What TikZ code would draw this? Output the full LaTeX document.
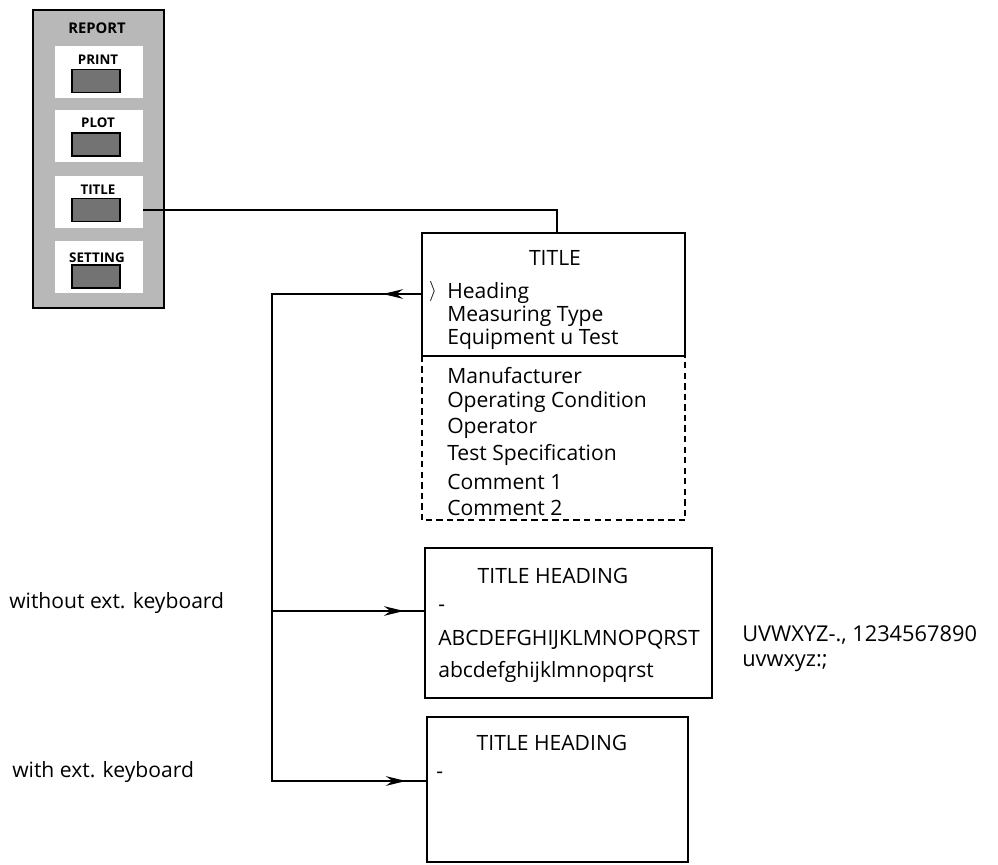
\documentclass[tikz,border=0pt]{standalone}
\usepackage{fontspec}
\setmainfont{Open Sans}
\usetikzlibrary{arrows.meta,decorations.markings}

\begin{document}
\begin{tikzpicture}[
  x=0.025cm, y=-0.025cm,
  font=\fontsize{15}{17}\selectfont,
  wire/.style={line width=1.4pt},
  panelbox/.style={draw, line width=1.6pt, fill=black!28, minimum width=3.275cm,
                   minimum height=7.45cm, inner sep=0pt},
  btnarea/.style={fill=white, minimum width=2.2cm, minimum height=1.3cm, inner sep=0pt},
  keybox/.style={draw, line width=1.3pt, fill=black!55, minimum width=1.2cm,
                 minimum height=0.575cm, inner sep=0pt},
  keylabel/.style={font=\fontsize{9.5}{10}\selectfont\bfseries, inner sep=0pt},
  screen/.style={draw, line width=1.4pt, inner sep=0pt},
  item/.style={anchor=west, inner sep=0pt},
  charset/.style={item, font=\fontsize{15.5}{18}\selectfont, text height=11pt, text depth=3pt},
  barb/.tip={Stealth[length=5mm, width=2.4mm]},
]
\useasboundingbox (0,0) rectangle (998,865);

% REPORT softkey panel
\node[panelbox] (panel) at (98.5,159) {};
\node[keylabel, font=\fontsize{10.5}{11}\selectfont\bfseries] (report) at (97,28) {REPORT};
\node[btnarea] (printbtn) at (99,72) {};
\node[btnarea] (plotbtn) at (99,136) {};
\node[btnarea] (titlebtn) at (99,202) {};
\node[btnarea] (setbtn) at (99,267) {};
\node[keylabel] (printlbl) at (98,60) {PRINT};
\node[keylabel] (plotlbl) at (98,123) {PLOT};
\node[keylabel] (titlelbl) at (98,190) {TITLE};
\node[keylabel] (setlbl) at (97,258) {SETTING};
\node[keybox] (printkey) at (96,81) {};
\node[keybox] (plotkey) at (96,144.5) {};
\node[keybox] (titlekey) at (96,210) {};
\node[keybox] (setkey) at (96,276.5) {};

% TITLE menu
\node[screen, minimum width=6.575cm, minimum height=3.075cm] (titlebox) at (553.5,294.5) {};
\node[inner sep=0pt, minimum width=6.575cm, minimum height=4.1cm] (optlist) at (553.5,438) {};
\draw[wire, dashed, dash pattern=on 4.5pt off 3pt]
  (optlist.north west) -- (optlist.south west) -- (optlist.south east) -- (optlist.north east);
\node[inner sep=0pt] (menutitle) at (555,258) {TITLE};
\node[item] (hd) at (447,293) {Heading};
\node[inner sep=0pt] (sel) at (433,291) {$\rangle$};
\foreach \txt [count=\i] in {Measuring Type, Equipment u Test}
  \node[item] (std\i) at (447,{293+23*\i}) {\txt};
\foreach \txt [count=\i] in {Manufacturer, Operating Condition, Operator,
                             Test Specification, Comment 1, Comment 2}
  \node[item] (opt\i) at (447,{376+26.4*(\i-1)}) {\txt};

% entry without external keyboard
\node[screen, minimum width=7.175cm, minimum height=3.75cm] (entrybox) at (568.5,623) {};
\node[inner sep=0pt] (head2) at (553,576) {TITLE HEADING};
\node[item] (cur2) at (438,608) {-};
\node[item] (upper) at (438,640) {ABCDEFGHIJKLMNOPQRST};
\node[item] (lower) at (438,672) {abcdefghijklmnopqrst};
\node[charset] (upper2) at (742,636) {UVWXYZ-., 1234567890};
\node[charset] (lower2) at (742,661) {uvwxyz:;};
\node[item] (nokbd) at (9,603) {without ext. keyboard};

% entry with external keyboard
\node[screen, minimum width=6.525cm, minimum height=3.625cm] (kbdbox) at (557.5,789.5) {};
\node[inner sep=0pt] (head3) at (552,743) {TITLE HEADING};
\node[item] (cur3) at (436,775) {-};
\node[item] (kbd) at (12,772) {with ext. keyboard};

% connectors
\coordinate (trunktop) at (272,294);
\coordinate (trunkmid) at (272,611);
\coordinate (trunkbot) at (272,781);
\draw[wire] (titlebtn.east |- titlekey) -| (557,233);
\draw[wire, postaction={decorate}, decoration={markings,
      mark=at position 0.95cm with {\arrow{barb}},
      mark=at position -0.5cm with {\arrow{barb}}}]
  (titlebox.west |- trunktop) -- (trunktop) -- (trunkbot) -- (kbdbox.west |- trunkbot);
\draw[wire, postaction={decorate}, decoration={markings,
      mark=at position -0.5cm with {\arrow{barb}}}]
  (trunkmid) -- (entrybox.west |- trunkmid);
\end{tikzpicture}
\end{document}
